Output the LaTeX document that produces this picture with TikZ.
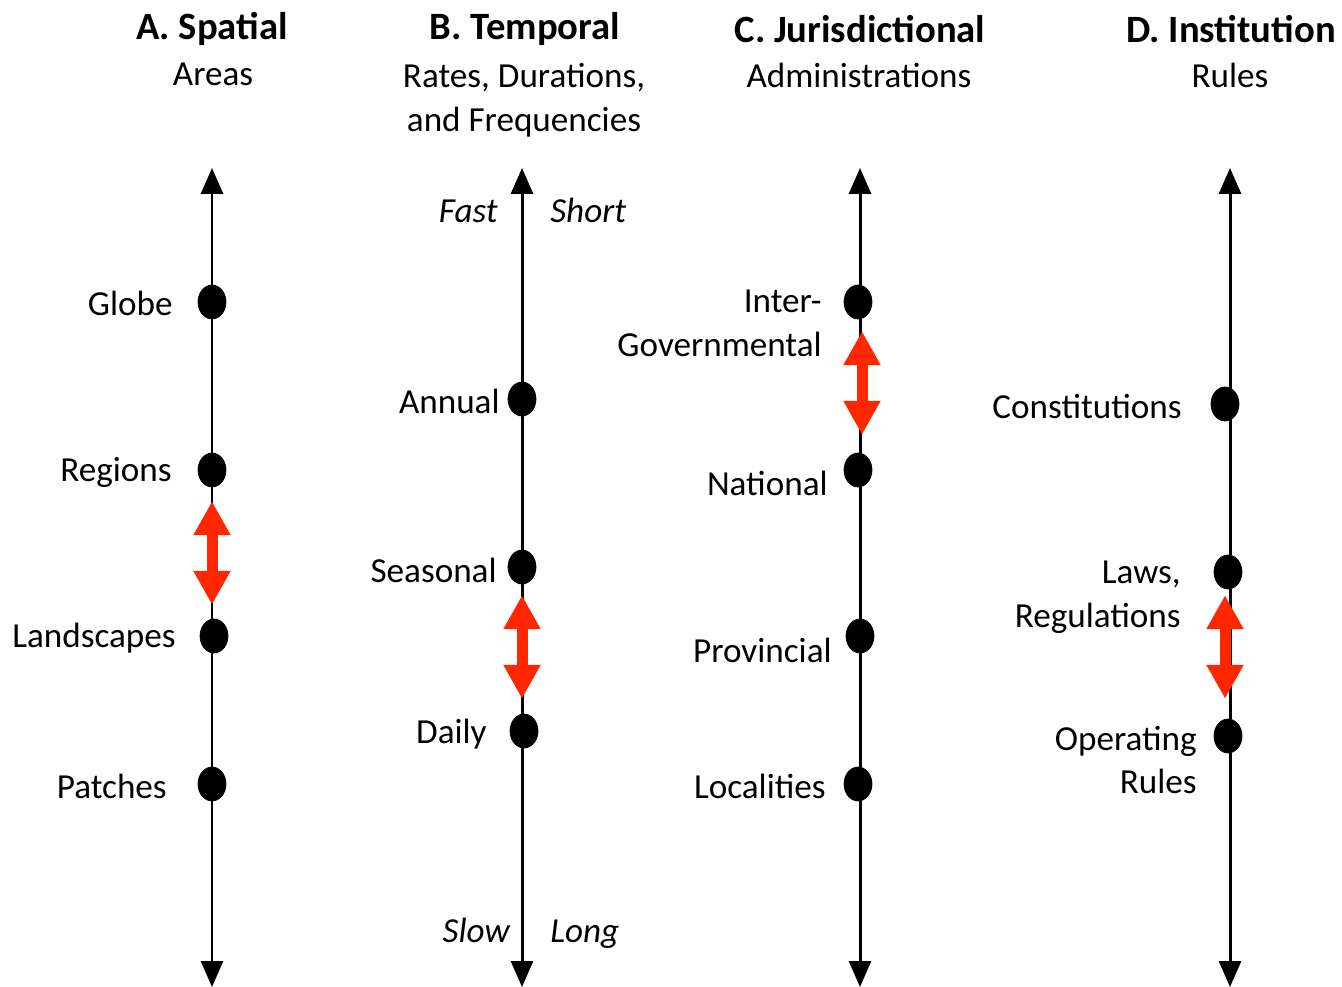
\documentclass[tikz,border=0pt]{standalone}
\usepackage{fontspec}
\setmainfont{Carlito}
\usetikzlibrary{arrows.meta,shapes.geometric}

\definecolor{scalered}{RGB}{255,38,0}

\tikzset{
  axis/.style={line width=1.7pt, {Triangle[width=0.44cm,length=0.52cm]}-{Triangle[width=0.44cm,length=0.52cm]}},
  link/.style={scalered, line width=0.22cm, {Triangle[width=0.7cm,length=0.68cm]}-{Triangle[width=0.7cm,length=0.68cm]}, shorten >=-1pt, shorten <=-1pt},
  dot/.style={fill, ellipse, draw, black, minimum width=0.56cm, minimum height=0.68cm, inner sep=0pt},
  lbl/.style={anchor=east, font=\fontsize{20}{25}\selectfont, inner sep=0pt},
  ends/.style={font=\fontsize{20}{25}\selectfont\itshape, inner sep=0pt},
  head/.style={font=\fontsize{22}{26}\selectfont\bfseries, inner sep=0pt},
  sub/.style={font=\fontsize{20}{25}\selectfont, align=center, inner sep=0pt, anchor=north}
}

\begin{document}
\begin{tikzpicture}[x=0.02cm, y=-0.02cm]
\useasboundingbox (0,0) rectangle (1342,987);

% headings
\node[head] (hA) at (212,29) {A. Spatial};
\node[head] (hB) at (525,29) {B. Temporal};
\node[head] (hC) at (860,29) {C. Jurisdictional};
\node[head] (hD) at (1231,29) {D. Institution};
\node[sub] (sA) at (213,63) {Areas};
\node[sub] (sB) at (524,63) {Rates, Durations,\\and Frequencies};
\node[sub] (sC) at (859,63) {Administrations};
\node[sub] (sD) at (1230,63) {Rules};

% axes
\coordinate (topA) at (212,168);
\coordinate (botA) at (212,987);
\coordinate (topB) at (522,168);
\coordinate (botB) at (522,987);
\coordinate (topC) at (860,168);
\coordinate (botC) at (860,987);
\coordinate (topD) at (1230,168);
\coordinate (botD) at (1230,987);
\draw[axis] (topA) -- (botA);
\draw[axis] (topB) -- (botB);
\draw[axis] (topC) -- (botC);
\draw[axis] (topD) -- (botD);

% A. Spatial
\node[dot] (globe) at (212,302) {};
\node[dot] (regions) at (212,470) {};
\node[dot] (landscapes) at (214,636) {};
\node[dot] (patches) at (212,784) {};
\node[lbl] (globetxt) at (173,303) {Globe};
\node[lbl] (regionstxt) at (172,472) {Regions};
\node[lbl] (landscapestxt) at (176,638) {Landscapes};
\node[lbl] (patchestxt) at (167,786) {Patches};

% B. Temporal
\node[ends, anchor=base east] (fast) at (498,222) {Fast};
\node[ends, anchor=base west] (short) at (550,222) {Short};
\node[ends, anchor=base east] (slow) at (510,942) {Slow};
\node[ends, anchor=base west] (long) at (550,942) {Long};
\node[dot] (annual) at (522,399) {};
\node[dot] (seasonal) at (522,567) {};
\node[dot] (daily) at (524,731) {};
\node[lbl] (annualtxt) at (500,401) {Annual};
\node[lbl] (seasonaltxt) at (497,570) {Seasonal};
\node[lbl] (dailytxt) at (487,734) {Daily};

% C. Jurisdictional
\node[dot] (intergov) at (858,302) {};
\node[dot] (national) at (858,470) {};
\node[dot] (provincial) at (860,636) {};
\node[dot] (localities) at (858,784) {};
\node[lbl, align=right] (intergovtxt) at (822,323) {Inter-\\Governmental};
\node[lbl] (nationaltxt) at (828,483) {National};
\node[lbl] (provincialtxt) at (832,650) {Provincial};
\node[lbl] (localitiestxt) at (826,786) {Localities};

% D. Institution
\node[dot] (constitutions) at (1225,404) {};
\node[dot] (laws) at (1228,572) {};
\node[dot] (operating) at (1228,736) {};
\node[lbl] (constitutionstxt) at (1182,406) {Constitutions};
\node[lbl, align=right] (lawstxt) at (1181,597) {Laws,\\Regulations};
\node[lbl, align=right] (operatingtxt) at (1197,760) {Operating\\Rules};

% scale links
\coordinate (lAt) at (212,503);
\coordinate (lAb) at (212,603);
\coordinate (lBt) at (522,597);
\coordinate (lBb) at (522,697);
\coordinate (lCt) at (862,333);
\coordinate (lCb) at (862,433);
\coordinate (lDt) at (1225,597);
\coordinate (lDb) at (1225,697);
\draw[link] (lAt) -- (lAb);
\draw[link] (lBt) -- (lBb);
\draw[link] (lCt) -- (lCb);
\draw[link] (lDt) -- (lDb);
\end{tikzpicture}
\end{document}
